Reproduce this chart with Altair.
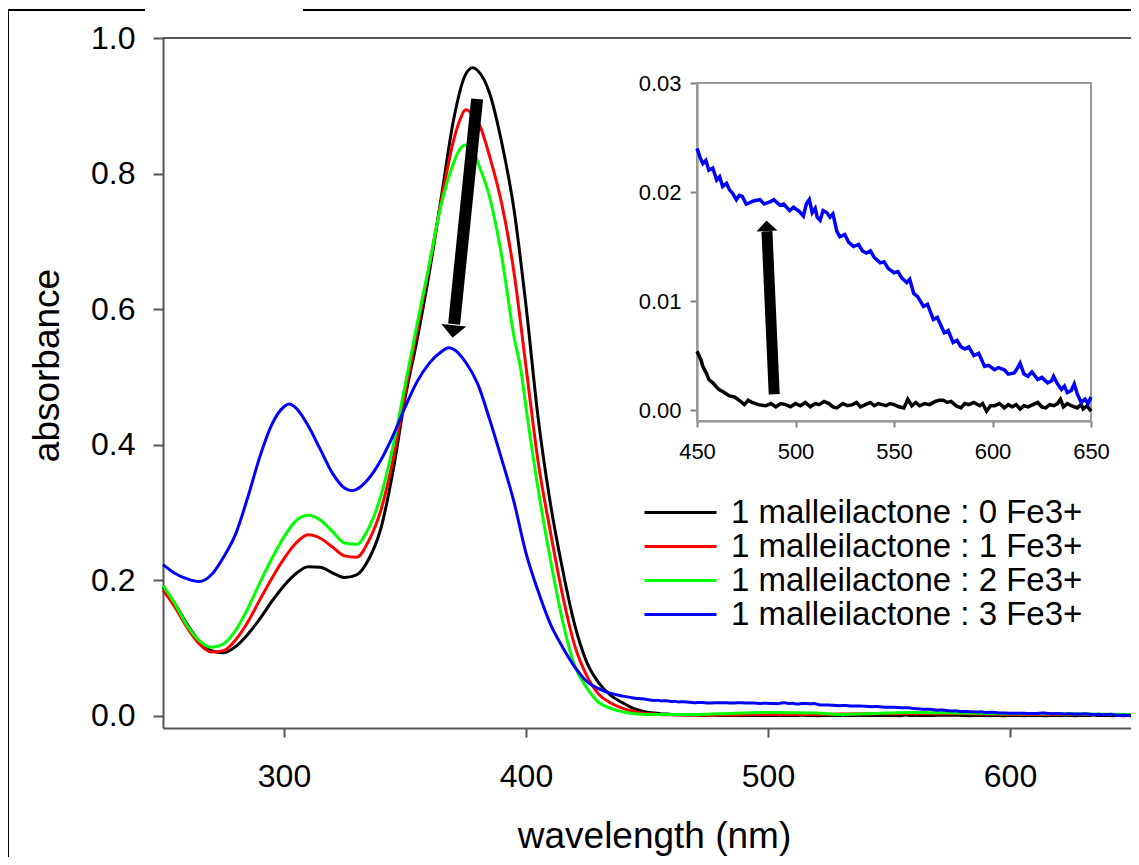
import altair as alt
import pandas as pd

FONT = "Liberation Sans"

series_names = [
    "1 malleilactone : 0 Fe3+",
    "1 malleilactone : 1 Fe3+",
    "1 malleilactone : 2 Fe3+",
    "1 malleilactone : 3 Fe3+",
]
series_colors = ["#000000", "#ff0000", "#00ff00", "#0000ff"]

# ---- main spectra (250-450 nm) ----
black_wl = [250, 255, 260, 265, 270, 275, 280, 285, 290, 295, 300, 305, 310, 315, 320, 325, 330, 335, 340, 345,
            350, 355, 360, 365, 370, 375, 378, 380, 385, 390, 395, 400, 405, 410, 415, 420, 425, 430, 435, 440, 445]
black_abs = [0.190, 0.165, 0.135, 0.110, 0.096, 0.093, 0.102, 0.120, 0.143, 0.169, 0.192, 0.210, 0.220, 0.219,
             0.211, 0.204, 0.208, 0.231, 0.276, 0.360, 0.468, 0.555, 0.653, 0.765, 0.878, 0.946, 0.956, 0.952,
             0.918, 0.845, 0.748, 0.605, 0.440, 0.315, 0.218, 0.136, 0.080, 0.049, 0.030, 0.019, 0.010]

red_wl = [250, 255, 260, 265, 270, 275, 280, 285, 290, 295, 300, 305, 310, 315, 320, 325, 330, 335, 340, 345,
          350, 355, 360, 365, 370, 373, 375, 378, 381, 385, 390, 395, 400, 405, 410, 415, 420, 425, 430, 435,
          440, 445, 450]
red_abs = [0.185, 0.160, 0.130, 0.106, 0.094, 0.096, 0.112, 0.138, 0.171, 0.203, 0.232, 0.255, 0.267, 0.262,
           0.249, 0.236, 0.234, 0.258, 0.303, 0.377, 0.475, 0.568, 0.663, 0.760, 0.848, 0.882, 0.894, 0.887,
           0.870, 0.825, 0.755, 0.655, 0.515, 0.375, 0.273, 0.180, 0.105, 0.060, 0.032, 0.019, 0.011, 0.006,
           0.003]
red_tail_wl = [455, 460, 470, 480, 500, 520, 540, 560, 580, 600, 620, 650]
red_tail = [0.002, 0.0015, 0.001, 0.001, 0.002, 0.002, 0.003, 0.003, 0.003, 0.002, 0.002, 0.002]

green_wl = [250, 255, 260, 265, 270, 275, 280, 285, 290, 295, 300, 305, 310, 315, 320, 325, 330, 335, 340, 345,
            350, 355, 360, 365, 370, 372, 375, 378, 381, 385, 390, 395, 398, 400, 405, 410, 415, 420, 425, 430,
            435, 440, 445, 450]
green_abs = [0.192, 0.165, 0.133, 0.111, 0.101, 0.106, 0.126, 0.158, 0.196, 0.232, 0.264, 0.288, 0.296, 0.289,
             0.272, 0.255, 0.253, 0.277, 0.324, 0.397, 0.487, 0.578, 0.665, 0.755, 0.815, 0.832, 0.842, 0.834,
             0.808, 0.765, 0.677, 0.560, 0.508, 0.455, 0.335, 0.232, 0.142, 0.075, 0.042, 0.020, 0.011, 0.006,
             0.003, 0.002]
green_tail_wl = [455, 460, 470, 480, 500, 520, 530, 540, 560, 580, 600, 620, 650]
green_tail = [0.002, 0.002, 0.002, 0.003, 0.005, 0.004, 0.002, 0.003, 0.005, 0.004, 0.003, 0.003, 0.002]

blue_wl = [250, 255, 260, 265, 270, 275, 280, 285, 290, 295, 300, 302, 305, 310, 315, 320, 325, 328, 330, 335,
           340, 345, 350, 355, 360, 365, 368, 370, 375, 380, 385, 390, 395, 400, 405, 410, 415, 420, 425, 430,
           435, 440, 445]
blue_abs = [0.223, 0.210, 0.202, 0.198, 0.208, 0.234, 0.268, 0.322, 0.382, 0.430, 0.456, 0.460, 0.454, 0.428,
            0.393, 0.358, 0.336, 0.332, 0.334, 0.350, 0.377, 0.413, 0.455, 0.493, 0.520, 0.537, 0.543, 0.541,
            0.522, 0.490, 0.437, 0.378, 0.316, 0.240, 0.184, 0.136, 0.102, 0.073, 0.051, 0.040, 0.033, 0.029,
            0.026]

# ---- inset spectra (450-650 nm) ----
inset_blue_wl = [450, 451.5, 453, 454.5, 456, 458, 460, 461.5, 463, 465,
                 466.5, 468, 470, 471.5, 473, 475, 476.5, 479, 482, 484,
                 487, 489, 492, 494, 497, 499, 502, 504, 505.5, 507,
                 508.5, 510, 511, 512.5, 514, 516, 517.5, 519, 521, 522.5,
                 525, 527, 529.5, 532, 534, 536, 538, 540, 543, 545,
                 547, 550, 552, 554, 556.5, 558, 560, 562, 565, 567,
                 570, 572, 575.5, 577.5, 580, 582, 584, 586, 588, 590.5,
                 593, 596, 598, 601, 603, 606, 608, 611, 612.5, 614,
                 616, 618, 620, 623, 625, 628, 630, 631, 633, 635,
                 636.5, 638, 640, 641.5, 643, 645, 647, 648.5, 650]
inset_blue = [0.0240, 0.0232, 0.0226, 0.0229, 0.0220, 0.0222, 0.0211, 0.0214, 0.0205, 0.0208,
              0.0202, 0.0199, 0.0193, 0.0197, 0.0196, 0.0189, 0.0190, 0.0192, 0.0193, 0.0189,
              0.0191, 0.0193, 0.0188, 0.0189, 0.0183, 0.0186, 0.0182, 0.0178, 0.0189, 0.0193,
              0.0181, 0.0185, 0.0177, 0.0174, 0.0183, 0.0181, 0.0177, 0.0180, 0.0164, 0.0159,
              0.0161, 0.0154, 0.0150, 0.0152, 0.0146, 0.0144, 0.0146, 0.0140, 0.0135, 0.0136,
              0.0130, 0.0126, 0.0127, 0.0121, 0.0117, 0.0120, 0.0107, 0.0104, 0.0095, 0.0097,
              0.0083, 0.0085, 0.0071, 0.0073, 0.0062, 0.0064, 0.0058, 0.0056, 0.0058, 0.0050,
              0.0052, 0.0040, 0.0041, 0.0037, 0.0039, 0.0037, 0.0033, 0.0034, 0.0038, 0.0043,
              0.0033, 0.0031, 0.0035, 0.0028, 0.0030, 0.0025, 0.0027, 0.0031, 0.0024, 0.0019,
              0.0022, 0.0016, 0.0018, 0.0024, 0.0015, 0.0007, 0.0010, 0.0006, 0.0012]
inset_black_wl = [450, 452, 453, 455, 456, 458, 461, 463, 466.5, 469,
                  471.5, 474, 476, 478, 481, 485, 487.5, 490, 492.5, 495,
                  497.5, 500, 502.5, 505, 507.5, 510, 512, 514.5, 517, 519,
                  521, 524, 526.5, 529, 531, 533, 535.5, 538, 540, 542,
                  544, 546, 548, 550, 552.5, 555, 557, 559, 561, 563,
                  565.5, 568, 571, 573, 575, 577, 579, 581.5, 584, 586,
                  588, 590.5, 593.5, 595, 597, 599, 601, 603.5, 606, 608,
                  610, 612, 614, 616, 618, 620.5, 623, 625, 627, 629,
                  631, 633, 634.5, 636, 638, 640, 643, 645, 646, 648, 650]
inset_black = [0.0054, 0.0046, 0.0040, 0.0033, 0.0028, 0.0025, 0.0019, 0.0017, 0.0013, 0.0012,
               0.0009, 0.0005, 0.0009, 0.0007, 0.0005, 0.0004, 0.0006, 0.0003, 0.0006, 0.0005,
               0.0003, 0.0006, 0.0004, 0.0007, 0.0003, 0.0006, 0.0005, 0.0008, 0.0006, 0.0003,
               0.0002, 0.0006, 0.0004, 0.0005, 0.0007, 0.0003, 0.0005, 0.0007, 0.0004, 0.0006,
               0.0005, 0.0004, 0.0006, 0.0005, 0.0003, 0.0002, 0.0010, 0.0004, 0.0007, 0.0004,
               0.0006, 0.0005, 0.0008, 0.0009, 0.0009, 0.0007, 0.0008, 0.0004, 0.0002, 0.0006,
               0.0005, 0.0007, 0.0004, 0.0006, -0.0001, 0.0004, 0.0004, 0.0006, 0.0002, 0.0005,
               0.0003, 0.0005, 0.0001, 0.0004, 0.0003, 0.0005, 0.0007, 0.0003, 0.0002, 0.0005,
               0.0004, 0.0006, 0.0010, 0.0003, 0.0006, 0.0004, 0.0002, 0.0005, 0.0001, 0.0004, -0.0001]

# ---- arrows (annotation positions in data units) ----
arrow_main_wl = [379.8, 370.3]
arrow_main_abs = [0.910, 0.578]
arrow_main_head = [369.9, 0.567]
arrow_inset_wl = [489.2, 485.5]
arrow_inset_abs = [0.00145, 0.0164]
arrow_inset_head = [485.4, 0.0169]

rows = []
for name, wls, vals in [
    (series_names[0], black_wl + inset_black_wl, black_abs + inset_black),
    (series_names[1], red_wl + red_tail_wl, red_abs + red_tail),
    (series_names[2], green_wl + green_tail_wl, green_abs + green_tail),
    (series_names[3], blue_wl + inset_blue_wl, blue_abs + inset_blue),
]:
    for w, v in zip(wls, vals):
        rows.append({"series": name, "wl": w, "abs": v, "order": series_names.index(name)})
main_df = pd.DataFrame(rows)

inset_rows = []
for name, wls, vals in [("black", inset_black_wl, inset_black), ("blue", inset_blue_wl, inset_blue)]:
    for w, v in zip(wls, vals):
        inset_rows.append({"s": name, "wl_i": w, "abs_i": v})
inset_df = pd.DataFrame(inset_rows)

W, H = 968, 690
AXC = "#555555"

main_xscale = alt.Scale(domain=[250, 650], nice=False, zero=False)
main_yscale = alt.Scale(domain=[-0.018, 1.0], nice=False, zero=False)
main_xaxis = alt.Axis(values=[300, 400, 500, 600], format="d", title="wavelength (nm)", grid=False,
                      domainColor=AXC, domainWidth=2, tickColor=AXC, tickWidth=2, tickSize=9,
                      labelFontSize=32, labelColor="black", labelFont=FONT, labelBaseline="alphabetic",
                      labelPadding=49, labelFlush=False,
                      titleFontSize=37, titleFontWeight="normal", titleColor="black",
                      titleFont=FONT, titleBaseline="alphabetic", titleX=491, titleY=119, titleAlign="center")
main_yaxis = alt.Axis(values=[0, 0.2, 0.4, 0.6, 0.8, 1.0], format=".1f", title="absorbance", grid=False,
                      domainColor=AXC, domainWidth=2, tickColor=AXC, tickWidth=2, tickSize=10,
                      labelFontSize=32, labelColor="black", labelFont=FONT, labelPadding=18,
                      titleFontSize=37, titleFontWeight="normal", titleColor="black", titleFont=FONT,
                      titleAngle=270, titleBaseline="alphabetic", titleX=-105, titleY=327, titleAlign="center")


def mx(f):
    return alt.X(f"{f}:Q", scale=main_xscale, axis=main_xaxis)


def my(f):
    return alt.Y(f"{f}:Q", scale=main_yscale, axis=main_yaxis)


lines = alt.Chart(main_df).mark_line(strokeWidth=3, interpolate="monotone").encode(
    x=mx("wl"),
    y=my("abs"),
    color=alt.Color("series:N", scale=alt.Scale(domain=series_names, range=series_colors),
                    legend=alt.Legend(title=None, orient="none", legendX=480, legendY=458,
                                      symbolType="stroke", symbolSize=5184, symbolStrokeWidth=3,
                                      clipHeight=33, rowPadding=0, padding=0, labelFontSize=33,
                                      labelOffset=13, labelColor="black", labelFont=FONT, labelLimit=800)),
    order=alt.Order("order:Q"),
)

arrow_main_df = pd.DataFrame({"wl": arrow_main_wl, "abs": arrow_main_abs})
arrow_main = alt.Chart(arrow_main_df).mark_line(strokeWidth=12, color="black", strokeCap="butt").encode(
    x=mx("wl"), y=my("abs"))
arrow_main_head_df = pd.DataFrame({"wl": [arrow_main_head[0]], "abs": [arrow_main_head[1]]})
arrow_main_tip = alt.Chart(arrow_main_head_df).mark_point(
    shape="M-1,-0.5L1,-0.5L0,0.5Z", filled=True, size=625, angle=6, color="black", opacity=1).encode(
    x=mx("wl"), y=my("abs"))

deco_df = pd.DataFrame({"k": [0]})
top_line = alt.Chart(deco_df).mark_rule(color=AXC, strokeWidth=2).encode(
    x=alt.value(0), x2=alt.value(W), y=alt.value(0))
border_left = alt.Chart(deco_df).mark_rule(color="black", strokeWidth=2).encode(
    x=alt.value(-155), y=alt.value(-28), y2=alt.value(H + 130))
border_top1 = alt.Chart(deco_df).mark_rule(color="black", strokeWidth=2).encode(
    x=alt.value(-156), x2=alt.value(-18), y=alt.value(-28))
border_top2 = alt.Chart(deco_df).mark_rule(color="black", strokeWidth=2).encode(
    x=alt.value(140), x2=alt.value(W + 10), y=alt.value(-28))

main = alt.layer(lines, arrow_main, arrow_main_tip, top_line, border_left, border_top1, border_top2)

# ---- inset ----
IAX = "#808080"
inset_xscale = alt.Scale(domain=[450, 650], range=[534, 928], nice=False, zero=False)
inset_yscale = alt.Scale(domain=[-0.001, 0.03], range=[383, 45], nice=False, zero=False)
inset_xaxis = alt.Axis(orient="bottom", offset=-307, values=[450, 500, 550, 600, 650], format="d", title=None,
                       grid=False, domainColor=IAX, domainWidth=2, tickColor=IAX, tickWidth=2, tickSize=6,
                       labelFontSize=22, labelColor="black", labelFont=FONT, labelBaseline="alphabetic",
                       labelPadding=31, labelFlush=False)
inset_yaxis = alt.Axis(orient="left", offset=-534, values=[0, 0.01, 0.02, 0.03], format=".2f", title=None,
                       grid=False, domainColor=IAX, domainWidth=2, tickColor=IAX, tickWidth=2, tickSize=7,
                       labelFontSize=22, labelColor="black", labelFont=FONT, labelPadding=9, labelFlush=False)


def ix(f):
    return alt.X(f"{f}:Q", scale=inset_xscale, axis=inset_xaxis)


def iy(f):
    return alt.Y(f"{f}:Q", scale=inset_yscale, axis=inset_yaxis)


frame_df = pd.DataFrame({"wl_i": [450], "wl_i2": [650], "abs_i": [-0.001], "abs_i2": [0.03]})
inset_frame = alt.Chart(frame_df).mark_rect(filled=False, stroke="#9a9a9a", strokeWidth=2).encode(
    x=ix("wl_i"), x2="wl_i2", y=iy("abs_i"), y2="abs_i2")
inset_black_line = alt.Chart(inset_df).transform_filter(alt.datum.s == "black").mark_line(
    strokeWidth=3.5, color="black").encode(x=ix("wl_i"), y=iy("abs_i"))
inset_blue_line = alt.Chart(inset_df).transform_filter(alt.datum.s == "blue").mark_line(
    strokeWidth=3.5, color="#0000ff").encode(x=ix("wl_i"), y=iy("abs_i"))
arrow_inset_df = pd.DataFrame({"wl_i": arrow_inset_wl, "abs_i": arrow_inset_abs})
arrow_inset = alt.Chart(arrow_inset_df).mark_line(strokeWidth=11, color="black", strokeCap="butt").encode(
    x=ix("wl_i"), y=iy("abs_i"))
arrow_inset_head_df = pd.DataFrame({"wl_i": [arrow_inset_head[0]], "abs_i": [arrow_inset_head[1]]})
arrow_inset_tip = alt.Chart(arrow_inset_head_df).mark_point(
    shape="M-1,0.5L1,0.5L0,-0.5Z", filled=True, size=441, angle=357.4, color="black", opacity=1).encode(
    x=ix("wl_i"), y=iy("abs_i"))

inset = alt.layer(inset_frame, inset_black_line, inset_blue_line, arrow_inset, arrow_inset_tip)

chart = alt.layer(main, inset).resolve_scale(x="independent", y="independent").properties(
    width=W, height=H,
    autosize=alt.AutoSizeParams(type="none"),
    padding={"left": 155, "top": 30, "right": 0, "bottom": 129},
).configure_view(stroke=None).configure(background="white")

chart.save("out.html", embed_options={"renderer": "svg", "actions": False})
